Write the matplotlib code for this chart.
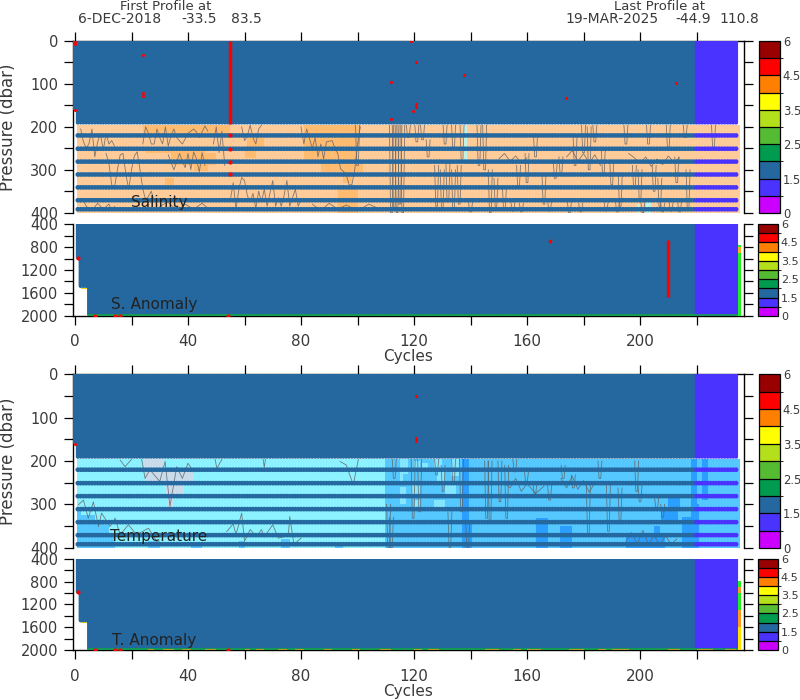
import matplotlib
matplotlib.use("Agg")
import matplotlib.pyplot as plt
import numpy as np
from matplotlib.cm import ScalarMappable
from matplotlib.colors import BoundaryNorm, ListedColormap

nan = np.nan
TXT = "#3a3a3a"

flag_levels = [0, 1, 1.5, 2, 2.5, 3, 3.5, 4, 4.5, 5, 6]
flag_colors = ["#cc00ff", "#4b33ff", "#24689f", "#009b4e", "#55bb33",
               "#b3e01a", "#ffff00", "#ff8000", "#ff0000", "#990000"]
flag_ticks = [0, 1.5, 2.5, 3.5, 4.5, 6]
VIOLET, BLUE = 1.25, 1.75
BRIGHT_GREEN, STRIP_GREEN, STRIP_ORANGE, END_YELLOW = "#22ee22", "#10a83c", "#b89a30", "#ffe000"

cycles = np.arange(0, 235)
last_blue_cycle = 219

band_levels = [220, 251, 281, 311, 341, 371, 392]
top_levels = list(range(2, 193, 4))
deep_levels = list(range(405, 2000, 25))

x_ticks = list(range(0, 221, 20))
x_labels = ["0", "", "40", "", "80", "", "120", "", "160", "", "200", ""]
upper_ticks = list(range(0, 401, 50))
upper_labels = ["0", "", "100", "", "200", "", "300", "", "400"]
lower_ticks = list(range(400, 2001, 200))
lower_labels = ["400", "", "800", "", "1200", "", "1600", "", "2000"]

# shaded blocks behind the bands: first cycle, last cycle, top, bottom
sal_base = "#ffcc99"
sal_blocks_c0 = [24, 25, 34, 42, 32, 61, 60, 81, 81, 87, 93, 95]
sal_blocks_c1 = [55, 46, 50, 47, 35, 67, 64, 101, 100, 102, 100, 98]
sal_blocks_p0 = [196, 250, 262, 288, 320, 226, 255, 196, 240, 285, 340, 300]
sal_blocks_p1 = [218, 262, 288, 302, 335, 246, 272, 240, 283, 305, 400, 330]
sal_dark = "#ffbb70"
sal_ice_c0 = [137.3, 199, 202]
sal_ice_c1 = [138.6, 200, 204]
sal_ice_p0 = [196, 380, 375]
sal_ice_p1 = [278, 400, 400]

tem_base_left = "#8cf2ff"
tem_base_right = "#55c8ff"
tem_split = 109.6
tem_mid_c0 = [0.6, 2, 7, 12, 26, 41, 58, 73, 92, 110, 113]
tem_mid_c1 = [2, 7, 12, 14, 30, 45, 60, 76, 95, 113, 114.5]
tem_mid_p0 = [316, 325, 340, 375, 385, 388, 385, 380, 388, 196, 300]
tem_mid_p1 = [400, 400, 400, 400, 400, 400, 400, 400, 400, 400, 400]
tem_lav_c0 = [24, 25, 32, 33]
tem_lav_c1 = [31.5, 42, 38.5, 35]
tem_lav_p0 = [196, 220, 250, 280]
tem_lav_p1 = [220, 248, 280, 305]
tem_light_c0 = [115, 120, 123, 127, 133, 128, 115, 119, 131, 120, 127, 115]
tem_light_c1 = [118, 122, 125, 130, 136, 131, 116, 122, 135, 122, 131, 117]
tem_light_p0 = [196, 200, 205, 196, 196, 225, 230, 255, 255, 290, 290, 260]
tem_light_p1 = [230, 218, 215, 220, 235, 250, 250, 275, 280, 310, 310, 300]
tem_dark_c0 = [137, 163, 171.5, 207.5, 210, 195, 218, 218, 222, 215, 205, 139]
tem_dark_c1 = [139.5, 167.5, 176, 213.5, 214, 209, 220, 221, 224, 218, 207, 140.5]
tem_dark_p0 = [196, 332, 350, 305, 280, 365, 196, 300, 196, 330, 350, 335]
tem_dark_p1 = [400, 400, 400, 345, 305, 400, 400, 400, 290, 400, 400, 400]
tem_dark = "#2a9fff"

# wiggly contour traces, nan starts a new piece
sal_x = [2, 3, 4, 5, 6, 7, 8, 9, 10, 11, 12, 13, 14, nan,
         11, 12, 13, 14, 15, 16, 17, 18, 19, 20, 21, 22, 23, 24, 25, 26, 27, 28, nan,
         24, 25, 26, 27, 28, 29, 30, 31, 32, 33, 34, 35, 36, 38, 39, 40, 42, 43, 44, 46, 47, nan,
         49, 50, 51, 52, 53, nan,
         33, 35, 37, 38, 39, 40, 41, 42, 43, 44, 45, 46, nan,
         55, 56, 57, 58, 59, 60, 61, 62, 63, 64, 65, 66, 67, 68, 70, 71, 72, 73, 74, 75, 76, 78, 79, 80, nan,
         59, 60, 61, 62, 63, 64, 65, 66, nan,
         80, 81, 82, 84, 85, 86, 87, 88, 89, 91, 92, 93, 94, 96, 97, 98, 99, 100, 101, nan,
         2, 3, 4, 6, 8, 10, 12, 13, 14, nan,
         150, 152, 154, 156, 158, 160, nan,
         174, 176, 178, 180, 182, 184, 186, nan,
         196, 198, 200, 202, 204, 206, 208, 210, 212, 214, nan,
         30, 33, 36, 39, 42, 45, 48, nan,
         84, 87, 90, 93, 96, 100, 104, 108]
sal_y = [205, 235, 250, 238, 205, 270, 236, 215, 255, 215, 240, 232, 245, nan,
         262, 285, 335, 340, 300, 265, 262, 310, 345, 300, 268, 258, 300, 345, 370, 362, 350, 372, nan,
         240, 200, 215, 240, 240, 205, 225, 240, 200, 245, 220, 205, 225, 240, 228, 215, 205, 212, 225, 198, 210, nan,
         240, 200, 260, 210, 290, nan,
         265, 300, 262, 280, 295, 262, 300, 258, 275, 305, 260, 290, nan,
         370, 330, 392, 345, 318, 325, 360, 375, 355, 390, 350, 375, 345, 385, 325, 385, 365, 385, 360, 325, 385, 345, 385, 370, nan,
         200, 232, 222, 196, 225, 240, 205, 196, nan,
         200, 240, 205, 250, 225, 270, 240, 275, 235, 232, 250, 262, 298, 310, 335, 335, 300, 240, 200, nan,
         375, 372, 385, 395, 378, 392, 380, 395, 385, nan,
         275, 262, 280, 268, 285, 272, nan,
         270, 255, 280, 262, 285, 265, 290, nan,
         262, 272, 285, 270, 292, 275, 288, 268, 282, 272, nan,
         385, 375, 395, 380, 392, 378, 395, nan,
         380, 395, 378, 392, 382, 396, 380, 392]
# narrow spikes: cycle, top, bottom
sal_sp_c = [100, 112, 113, 114, 115, 116, 118, 121, 123, 125, 131, 134, 137, 143, 145,
            128, 130, 132, 134, 136, 147, 149, 152, 157, 160, 163, 166, 170, 172,
            177, 180, 182, 184, 187, 190, 193, 195, 198, 200, 203, 205, 207, 210, 213, 216, 217, 226,
            140, 155, 158, 168, 175, 179, 188, 192, 201, 208, 211, 214]
sal_sp_t = [196, 196, 196, 196, 196, 196, 196, 196, 196, 230, 196, 196, 196, 196, 196,
            290, 300, 285, 300, 290, 300, 320, 340, 290, 262, 220, 310, 280, 270,
            220, 196, 200, 196, 250, 280, 310, 196, 290, 300, 196, 290, 320, 196, 270, 196, 300, 196,
            375, 375, 378, 372, 375, 378, 375, 372, 375, 378, 375, 372]
sal_sp_b = [290, 400, 390, 400, 380, 400, 225, 235, 230, 270, 240, 250, 280, 290, 300,
            385, 390, 375, 392, 380, 400, 385, 395, 340, 330, 270, 380, 320, 310,
            290, 260, 300, 235, 310, 335, 385, 240, 340, 370, 240, 350, 385, 250, 330, 225, 390, 250,
            398, 396, 398, 396, 400, 398, 396, 398, 400, 398, 396, 398]

tem_x = [1.2, 3, 4.7, 6.5, 8.3, 9.4, 12.4, 14.2, 16, 18.9, 21.8, 26, 29, 33, nan,
         16, 17.7, 20, nan,
         23.6, 24.8, 26.5, 30, 31.9, 33.6, 34.5, 36, 38, 40, 42, nan,
         49.6, 50.2, 52, nan,
         66.6, 67, 67.4, nan,
         93.8, 96, 98.5, 100.3, nan,
         53.7, 56, 57, 59, 60, 62, 64.3, 66, 67, 70, 72, 75.5, 76, 77.5, 80, nan,
         195, 197, 199, 201, 203, 205, 207, 209, 211, 213, nan,
         152, 154, 156, 158, 160, 163, 166, nan,
         172, 174, 176, 178, 180, 182, 184]
tem_y = [301, 290, 332, 294, 351, 320, 351, 332, 370, 347, 370, 355, 386, 395, nan,
         198, 213, 196, nan,
         196, 240, 220, 247, 201, 305, 270, 213, 240, 205, 225, nan,
         196, 217, 196, nan,
         196, 215, 196, nan,
         201, 209, 255, 196, nan,
         363, 345, 370, 320, 385, 358, 375, 358, 375, 347, 378, 372, 328, 392, 378, nan,
         385, 365, 392, 360, 392, 372, 395, 372, 392, 380, nan,
         250, 262, 240, 270, 252, 275, 258, nan,
         240, 262, 235, 265, 245, 272, 250]
tem_sp_c = [111, 112, 113, 119.7, 122, 128, 130.3, 132.7, 134, 136.8, 139, 145.7, 146.9,
            150.4, 152.8, 155.7, 159.8, 162.8, 168, 172.8, 176.4, 181.7, 185.8, 188.8,
            192.9, 198.8, 200, 205.9, 208]
tem_sp_t = [300, 330, 196, 196, 196, 196, 210, 317, 196, 196, 340, 200, 200,
            200, 210, 196, 225, 250, 256, 210, 232, 256, 200, 256, 262, 200, 256, 286, 300]
tem_sp_b = [400, 400, 240, 332, 317, 232, 270, 400, 250, 317, 400, 332, 340,
            294, 332, 225, 248, 275, 290, 240, 262, 370, 240, 362, 340, 270, 294, 310, 330]

# red single points
sal_bad_c = [0, 0, 0, 24, 24, 24, 112, 112, 120.7, 137.7, 173.7, 212.7, 120.7, 120.7, 119.8, 119]
sal_bad_p = [3, 8, 160, 32, 120, 128, 96, 182, 49, 79, 133, 97, 146, 154, 163, 1]
sal_bar_c = 55
sal_bar_bands = [220, 251, 281, 311]
tem_bad_c = [0, 120.7, 120.7, 120.7]
tem_bad_p = [160, 49, 146, 154]
anom_bad_c = [1, 7, 14, 16, 54]
anom_bad_p = [990, 2000, 2000, 2000, 2000]
sanom_extra_c = [168]
sanom_extra_p = [692]
sanom_bar_c = 210
sanom_bar_p = [675, 1667]

# column at the last cycle: top, bottom, colour
sanom_end_p0 = [760, 800, 900]
sanom_end_p1 = [800, 900, 2000]
sanom_end_col = [BRIGHT_GREEN, "#ffb020", BRIGHT_GREEN]
tanom_end_p0 = [790, 900, 1000, 1300, 1600]
tanom_end_p1 = [900, 1000, 1300, 1600, 2000]
tanom_end_col = [BRIGHT_GREEN, "#ff9a20", BRIGHT_GREEN, "#ff9a20", END_YELLOW]
# orange pieces of the thin strip along the 2000 dbar line
strip_c0 = [26, 31, 38, 46, 60, 64, 72, 78, 88, 98, 108, 120, 125, 145, 155, 160, 175, 185, 190, 210, 220, 230]
strip_c1 = [28, 35, 41, 50, 62, 67, 75, 81, 91, 101, 112, 123, 129, 150, 158, 165, 180, 188, 196, 214, 226, 234]

cmap = ListedColormap(flag_colors)
norm = BoundaryNorm(flag_levels, cmap.N)
fig = plt.figure(figsize=(8, 7), dpi=100)


def box(x0, y0, x1, y1):
    return [x0 / 800, 1 - y1 / 700, (x1 - x0) / 800, (y1 - y0) / 700]


def style(ax, ylim, yticks, ylabels, top):
    ax.set_xlim(-0.814, 236.8)
    ax.set_ylim(*ylim)
    ax.spines["bottom"].set_visible(not top)
    ax.spines["top"].set_visible(top)
    ax.set_yticks(yticks, labels=ylabels)
    ax.tick_params(axis="y", left=True, right=True, length=6.5, width=0.9, labelsize=10.5,
                   labelcolor=TXT, pad=4)
    if top:
        ax.set_xticks(x_ticks, labels=[])
        ax.tick_params(axis="x", top=True, bottom=False, length=6.5, width=0.9)
    else:
        ax.set_xticks(x_ticks, labels=x_labels)
        ax.tick_params(axis="x", bottom=True, length=6.5, width=0.9, labelsize=11,
                       labelcolor=TXT, pad=7)
    for s in ax.spines.values():
        s.set_linewidth(1.0)


def colorbar(pos, size):
    cax = fig.add_axes(box(*pos))
    cb = fig.colorbar(ScalarMappable(norm=norm, cmap=cmap), cax=cax, spacing="uniform",
                      ticks=flag_ticks, drawedges=True)
    cb.ax.set_yticklabels(["0", "1.5", "2.5", "3.5", "4.5", "6"])
    cb.ax.tick_params(length=0, labelsize=size, labelcolor=TXT, pad=2)
    cb.outline.set_linewidth(0.9)
    cb.dividers.set_linewidth(0.9)


def flags_of(c):
    return VIOLET if c > last_blue_cycle else BLUE


def dots(ax, c, p, f, size=8.5, z=3):
    ax.scatter(c, p, c=f, cmap=cmap, norm=norm, s=size, linewidths=0, marker="o", zorder=z)


def blocks(ax, c0, c1, p0, p1, color, z=1):
    left = np.array(c0, float)
    ax.bar(left, np.array(p1, float) - np.array(p0, float), width=np.array(c1, float) - left,
           bottom=p0, align="edge", color=color, linewidth=0, zorder=z)


def contour(ax, tx, ty, sc, st, sb):
    ax.plot(tx, ty, color="#606060", lw=0.6, alpha=0.8, zorder=2)
    for c, t, b in zip(sc, st, sb):
        ax.plot([c - 0.7, c - 0.3, c + 0.3, c + 0.7], [t, b, b, t], color="#606060", lw=0.6,
                alpha=0.8, zorder=2)


def upper(pos, cbpos, label, labelxy):
    ax = fig.add_axes(box(*pos))
    style(ax, (400, 0), upper_ticks, upper_labels, True)
    for p in top_levels:
        keep = cycles[0 if p < 160 else 1:]
        dots(ax, keep, [p] * len(keep), [flags_of(c) for c in keep])
    for p in band_levels:
        keep = cycles[1:]
        dots(ax, keep, [p] * len(keep), [flags_of(c) for c in keep], size=11.5)
    fig.text(labelxy[0] / 800, 1 - labelxy[1] / 700, label, fontsize=11, color="#222222",
             ha="left", va="center", zorder=10)
    colorbar(cbpos, 8.3)
    ax.set_ylabel("Pressure (dbar)", fontsize=12, color=TXT)
    ax.yaxis.set_label_coords(-0.083, 0.5)
    return ax


def lower(pos, cbpos, label, labelxy, end_p0, end_p1, end_col):
    ax = fig.add_axes(box(*pos))
    style(ax, (2000, 400), lower_ticks, lower_labels, False)
    for p in deep_levels:
        if p > 1500:
            keep = cycles[5:]
        elif p > 1000:
            keep = cycles[2:]
        else:
            keep = cycles[1:]
        dots(ax, keep, [p] * len(keep), [flags_of(c) for c in keep])
    ax.plot([2, 4.4], [1510, 1510], color="#ffd800", lw=0.8, zorder=2.5)
    ax.plot([4.5, 234.8], [1985, 1985], color=STRIP_GREEN, lw=1.1, zorder=4, solid_capstyle="butt")
    blocks(ax, strip_c0, strip_c1, [1980] * len(strip_c0), [1992] * len(strip_c0), STRIP_ORANGE, z=4.2)
    blocks(ax, [234.8] * len(end_p0), [235.8] * len(end_p0), end_p0, end_p1, end_col, z=4)
    ax.scatter(anom_bad_c, anom_bad_p, color="#ff0000", s=9, linewidths=0, zorder=5)
    ax.set_xlabel("Cycles", fontsize=11, color=TXT, labelpad=0)
    fig.text(labelxy[0] / 800, 1 - labelxy[1] / 700, label, fontsize=11, color="#222222",
             ha="left", va="center", zorder=10)
    colorbar(cbpos, 8)
    return ax


# salinity
ax1 = upper((72.7, 41, 744, 212.7), (759, 41, 780, 213), "Salinity", (131, 202))
ax1.bar(0.6, 204, width=234.8, bottom=196, align="edge", color=sal_base, linewidth=0, zorder=0.5)
blocks(ax1, sal_blocks_c0, sal_blocks_c1, sal_blocks_p0, sal_blocks_p1, sal_dark)
blocks(ax1, sal_ice_c0, sal_ice_c1, sal_ice_p0, sal_ice_p1, "#bff2e5")
contour(ax1, sal_x, sal_y, sal_sp_c, sal_sp_t, sal_sp_b)
ax1.plot([sal_bar_c, sal_bar_c], [0, 194], color="#ff0000", lw=2.5, zorder=5, solid_capstyle="butt")
ax1.scatter([sal_bar_c] * len(sal_bar_bands), sal_bar_bands, color="#ff0000", s=9, linewidths=0, zorder=5)
ax1.scatter(sal_bad_c, sal_bad_p, color="#ff0000", s=5, linewidths=0, zorder=5)

ax2 = lower((72.7, 224.3, 744, 315.7), (758, 224, 778, 316), "S. Anomaly", (111, 305),
            sanom_end_p0, sanom_end_p1, sanom_end_col)
ax2.scatter(sanom_extra_c, sanom_extra_p, color="#ff0000", s=7, linewidths=0, zorder=5)
ax2.plot([sanom_bar_c, sanom_bar_c], sanom_bar_p, color="#ff0000", lw=2.4, zorder=5, solid_capstyle="butt")

# temperature
ax3 = upper((72.7, 374.4, 744, 547.7), (759, 374.4, 780, 548), "Temperature", (110, 536))
ax3.bar(0.6, 204, width=tem_split - 0.6, bottom=196, align="edge", color=tem_base_left, linewidth=0, zorder=0.5)
ax3.bar(tem_split, 204, width=235.4 - tem_split, bottom=196, align="edge", color=tem_base_right, linewidth=0, zorder=0.5)
blocks(ax3, tem_mid_c0, tem_mid_c1, tem_mid_p0, tem_mid_p1, tem_base_right)
blocks(ax3, tem_lav_c0, tem_lav_c1, tem_lav_p0, tem_lav_p1, "#c9dcec")
blocks(ax3, tem_light_c0, tem_light_c1, tem_light_p0, tem_light_p1, "#85e6ff")
blocks(ax3, tem_dark_c0, tem_dark_c1, tem_dark_p0, tem_dark_p1, tem_dark)
contour(ax3, tem_x, tem_y, tem_sp_c, tem_sp_t, tem_sp_b)
ax3.scatter(tem_bad_c, tem_bad_p, color="#ff0000", s=5, linewidths=0, zorder=5)

ax4 = lower((72.7, 558.7, 744, 650), (758, 558.7, 778, 650), "T. Anomaly", (112, 640),
            tanom_end_p0, tanom_end_p1, tanom_end_col)

# header text
fig.text(166 / 800, 1 - 6.5 / 700, "First Profile at", fontsize=9.5, color=TXT, ha="center", va="center")
fig.text(78 / 800, 1 - 19 / 700, "6-DEC-2018", fontsize=10, color=TXT, ha="left", va="center")
fig.text(199 / 800, 1 - 19 / 700, "-33.5", fontsize=10, color=TXT, ha="center", va="center")
fig.text(246 / 800, 1 - 19 / 700, "83.5", fontsize=10, color=TXT, ha="center", va="center")
fig.text(660 / 800, 1 - 6.5 / 700, "Last Profile at", fontsize=9.5, color=TXT, ha="center", va="center")
fig.text(565 / 800, 1 - 19 / 700, "19-MAR-2025", fontsize=10, color=TXT, ha="left", va="center")
fig.text(693 / 800, 1 - 19 / 700, "-44.9", fontsize=10, color=TXT, ha="center", va="center")
fig.text(739 / 800, 1 - 19 / 700, "110.8", fontsize=10, color=TXT, ha="center", va="center")

fig.savefig("out.png", dpi=100)
